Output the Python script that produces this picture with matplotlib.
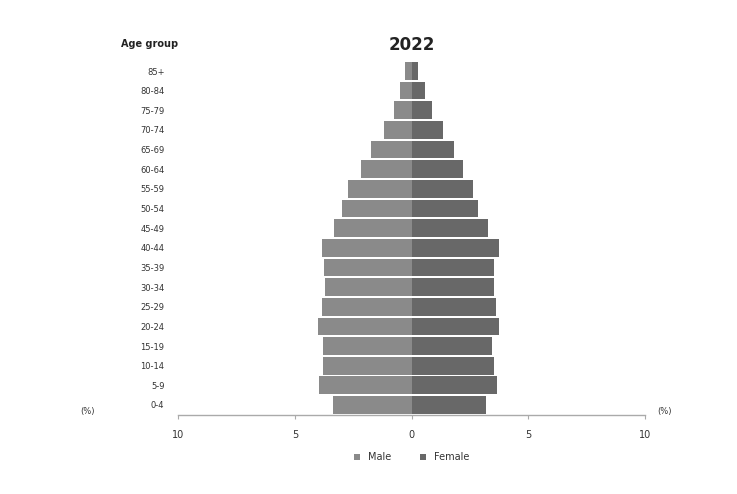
import matplotlib
matplotlib.use("Agg")
import matplotlib.pyplot as plt
import numpy as np

age_groups = ["0-4", "5-9", "10-14", "15-19", "20-24", "25-29", "30-34", "35-39",
              "40-44", "45-49", "50-54", "55-59", "60-64", "65-69", "70-74",
              "75-79", "80-84", "85+"]
male = [3.38, 3.97, 3.82, 3.82, 4.0, 3.86, 3.72, 3.75, 3.86, 3.33, 3.0, 2.73,
        2.16, 1.76, 1.2, 0.74, 0.48, 0.3]
female = [3.18, 3.66, 3.52, 3.44, 3.76, 3.63, 3.52, 3.54, 3.73, 3.26, 2.85,
          2.62, 2.2, 1.81, 1.34, 0.89, 0.56, 0.28]
xticks = [-10, -5, 0, 5, 10]
xtick_labels = ["10", "5", "0", "5", "10"]
title = "2022"

male_color = "#8a8a8a"
female_color = "#686868"
text_color = "#333333"

fig = plt.figure(figsize=(7.37, 4.94), dpi=100)
ax = fig.add_axes([178.3 / 737, 1 - 415 / 494, (645 - 178.3) / 737, (415 - 60) / 494])

y = np.arange(len(age_groups))
ax.barh(y, [-m for m in male], height=0.9, color=male_color, label="Male")
ax.barh(y, female, height=0.9, color=female_color, label="Female")

ax.set_xlim(-10, 10)
ax.set_ylim(-0.51, 17.56)
ax.set_yticks(y)
ax.set_yticklabels(age_groups, fontsize=6, color=text_color)
ax.tick_params(axis="y", length=0, pad=10)
ax.set_xticks(xticks)
ax.set_xticklabels(xtick_labels, fontsize=7, color=text_color)
ax.tick_params(axis="x", length=3, color="#aaaaaa", pad=8)

for s in ["top", "right", "left"]:
    ax.spines[s].set_visible(False)
ax.spines["bottom"].set_color("#aaaaaa")
ax.spines["bottom"].set_linewidth(1.0)

fig.text(412 / 737, 1 - 45 / 494, title, ha="center", va="center",
         fontsize=12, fontweight="bold", color="#222222")
fig.text(150 / 737, 1 - 44 / 494, "Age group", ha="center", va="center",
         fontsize=7, fontweight="bold", color="#222222")
fig.text(657 / 737, 1 - 411 / 494, "(%)", ha="left", va="center",
         fontsize=6, color=text_color)
fig.text(80 / 737, 1 - 411 / 494, "(%)", ha="left", va="center",
         fontsize=6, color=text_color)

ax.legend(loc="upper center", bbox_to_anchor=(0.5, -0.08), ncol=2, frameon=False,
          fontsize=7, handlelength=0.6, handleheight=0.6, columnspacing=3,
          labelcolor=text_color)

fig.savefig("out.png", dpi=100, facecolor="white")
